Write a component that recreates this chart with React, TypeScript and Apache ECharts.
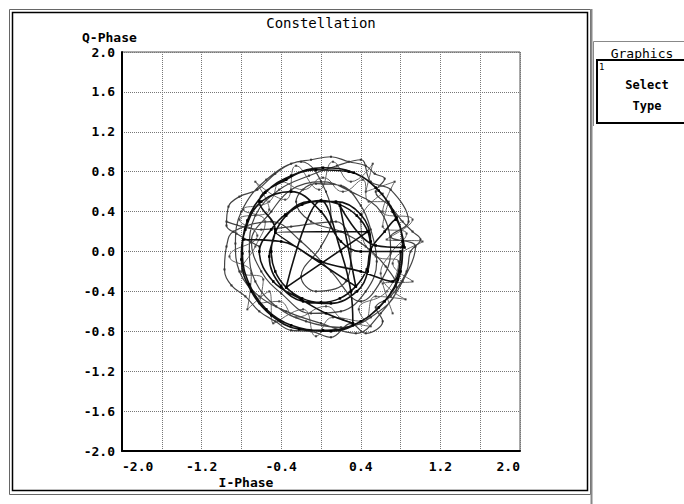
import React, { useEffect, useRef } from "react";
import * as echarts from "echarts";

const xTickValues = [-2.0, -1.2, -0.4, 0.4, 1.2, 2.0];
const xTickLabels = ["-2.0", "-1.2", "-0.4", "0.4", "1.2", "2.0"];
const yTickValues = [-2.0, -1.6, -1.2, -0.8, -0.4, 0.0, 0.4, 0.8, 1.2, 1.6, 2.0];
const yTickLabels = ["-2.0", "-1.6", "-1.2", "-0.8", "-0.4", "0.0", "0.4", "0.8", "1.2", "1.6", "2.0"];

// Dark trace (I, Q)
const traceDark: number[][] = [
  [0.50, 0.02], [0.47, 0.20], [0.36, 0.36], [0.19, 0.47], [0.00, 0.51], [-0.19, 0.47],
  [-0.35, 0.36], [-0.46, 0.19], [-0.50, 0.00], [-0.46, -0.20], [-0.35, -0.36], [-0.19, -0.47],
  [0.00, -0.51], [0.19, -0.47], [0.35, -0.35], [0.46, -0.18], [0.50, 0.02],
  [0.64, 0.20], [0.75, 0.32], [0.82, 0.05], [0.77, -0.28], [0.58, -0.56], [0.32, -0.74],
  [0.02, -0.79], [-0.30, -0.74], [-0.55, -0.58], [-0.72, -0.33], [-0.79, -0.02], [-0.74, 0.31],
  [-0.56, 0.59], [-0.30, 0.76], [0.02, 0.84], [0.33, 0.79], [0.58, 0.61], [0.76, 0.34],
  [0.84, 0.04], [0.55, 0.06], [0.19, 0.46], [0.35, -0.35], [-0.46, 0.19], [0.47, 0.20],
  [-0.35, -0.36], [0.00, 0.51], [0.20, 0.00], [0.30, -0.40], [0.32, -0.72],
  [0.05, -0.62], [-0.20, -0.48], [-0.48, -0.30], [-0.62, 0.00], [-0.50, 0.22],
  [-0.36, 0.37], [-0.12, 0.50], [0.15, 0.50], [0.40, 0.37], [0.50, 0.10], [0.47, -0.20],
  [0.36, -0.40], [0.10, -0.52], [-0.18, -0.50], [-0.40, -0.35], [-0.52, -0.05],
  [-0.46, 0.22], [-0.62, 0.50], [-0.35, 0.72], [-0.05, 0.82], [0.28, 0.80], [0.55, 0.64],
  [0.72, 0.40], [0.82, 0.10], [0.80, -0.20], [0.64, -0.50], [0.40, -0.70], [0.10, -0.80],
  [-0.22, -0.78], [-0.50, -0.64], [-0.70, -0.40], [-0.80, -0.08], [-0.76, 0.22], [-0.60, 0.50],
  [-0.30, 0.60], [0.00, 0.40], [0.20, 0.10], [0.40, 0.00], [0.80, 0.00], [0.72, -0.30],
  [0.40, -0.20], [0.00, -0.10], [-0.40, 0.10], [-0.78, 0.12]
];

// Grey trace (I, Q)
const traceGrey: number[][] = [
  [-0.62, 0.05], [-0.85, 0.18], [-0.95, 0.26], [-0.93, 0.45], [-0.82, 0.55], [-0.64, 0.62],
  [-0.46, 0.78], [-0.30, 0.88], [-0.10, 0.92], [0.10, 0.95], [0.28, 0.90], [0.45, 0.86],
  [0.54, 0.78], [0.64, 0.73], [0.55, 0.60], [0.70, 0.45], [0.82, 0.30], [0.92, 0.20],
  [1.00, 0.12], [0.90, 0.00], [0.86, -0.20], [0.70, -0.45], [0.55, -0.56], [0.62, -0.70],
  [0.45, -0.82], [0.30, -0.72], [0.10, -0.86], [-0.10, -0.80], [-0.30, -0.79], [-0.46, -0.70],
  [-0.62, -0.60], [-0.76, -0.45], [-0.90, -0.34], [-0.97, -0.18], [-0.95, 0.05], [-0.88, 0.20],
  [-0.50, 0.30], [-0.20, 0.10], [0.10, -0.20], [0.40, -0.50], [0.60, -0.30], [0.70, 0.00],
  [0.60, 0.40], [0.30, 0.60], [0.00, 0.70], [-0.30, 0.62], [-0.50, 0.40], [-0.70, 0.10],
  [-0.60, -0.20], [-0.40, -0.42], [-0.10, -0.62], [0.20, -0.60], [0.45, -0.40], [0.56, -0.10],
  [0.50, 0.22], [0.40, 0.46], [0.20, 0.66], [-0.05, 0.68], [-0.25, 0.50], [-0.10, 0.30],
  [0.20, 0.20], [0.45, 0.05], [0.65, -0.15], [0.76, -0.36], [0.50, -0.66], [0.20, -0.76],
  [-0.15, -0.70], [-0.45, -0.55], [-0.66, -0.30], [-0.72, 0.00], [-0.66, 0.36], [-0.42, 0.62],
  [-0.12, 0.76], [0.16, 0.86], [0.40, 0.92], [0.50, 0.70], [0.70, 0.62], [0.88, 0.30],
  [0.70, 0.15], [0.95, 0.05], [0.82, -0.30], [0.60, -0.62], [0.35, -0.82], [0.00, -0.72],
  [-0.35, -0.60], [-0.62, -0.45], [-0.82, -0.20], [-0.86, 0.08], [-0.80, 0.40], [-0.55, 0.72],
  [-0.20, 0.90], [0.05, 0.60], [0.10, 0.30], [0.00, 0.05], [-0.20, -0.25], [-0.05, -0.40],
  [0.25, -0.30], [0.30, 0.00], [0.15, 0.30], [-0.30, 0.25], [-0.60, 0.22], [-0.95, 0.30]
];

// Mid-grey trace (I, Q)
const traceMid: number[][] = [
  [0.62, 0.58], [0.40, 0.30], [0.55, -0.05], [0.78, -0.10], [0.66, -0.40], [0.38, -0.58],
  [0.50, -0.75], [0.22, -0.68], [0.05, -0.55], [-0.25, -0.66], [-0.42, -0.50], [-0.62, -0.52],
  [-0.58, -0.28], [-0.80, -0.20], [-0.66, 0.05], [-0.56, 0.30], [-0.78, 0.42], [-0.52, 0.50],
  [-0.40, 0.70], [-0.18, 0.62], [0.02, 0.74], [0.22, 0.60], [0.42, 0.72], [0.48, 0.50],
  [0.68, 0.50], [0.62, 0.25], [0.86, 0.18], [0.70, -0.02], [0.60, -0.22], [0.85, -0.48],
  [0.55, -0.45], [0.42, -0.70], [0.12, -0.66], [-0.05, -0.85], [-0.18, -0.58], [-0.48, -0.72],
  [-0.52, -0.40], [-0.74, -0.58], [-0.70, -0.22], [-0.92, -0.05], [-0.64, 0.16], [-0.82, 0.32],
  [-0.52, 0.42], [-0.66, 0.70], [-0.36, 0.52], [-0.25, 0.86], [-0.02, 0.62], [0.12, 0.90],
  [0.30, 0.70], [0.52, 0.88], [0.45, 0.60], [0.74, 0.70], [0.62, 0.40], [0.92, 0.32],
  [0.66, 0.12], [1.02, 0.10], [0.72, -0.12], [0.92, -0.30], [0.62, -0.32], [0.72, -0.62]
];

const mono = "'DejaVu Sans Mono', 'Liberation Mono', monospace";

function fmt(values: number[], labels: string[]) {
  return (v: number) => {
    const i = values.findIndex((t) => Math.abs(t - v) < 1e-6);
    return i >= 0 ? labels[i] : "";
  };
}

export default function App() {
  const ref = useRef<HTMLDivElement>(null);
  useEffect(() => {
    if (!ref.current) return;
    const chart = echarts.init(ref.current, null, { renderer: "svg" });
    chart.setOption({
      animation: false,
      backgroundColor: "#ffffff",
      grid: {
        left: 122, top: 52, width: 398, height: 399,
        show: true, borderColor: "#555555", borderWidth: 1, backgroundColor: "transparent"
      },
      xAxis: {
        type: "value", min: -2, max: 2, interval: 0.4,
        axisLine: { show: true, onZero: false, lineStyle: { color: "#000", width: 2 } },
        axisTick: { show: false },
        splitLine: { show: true, lineStyle: { color: "#777", type: [1, 1], width: 1 } },
        axisLabel: {
          formatter: fmt(xTickValues, xTickLabels), color: "#000", fontFamily: mono,
          fontWeight: "bold", fontSize: 13, margin: 9, alignMinLabel: "left", alignMaxLabel: "right"
        }
      },
      yAxis: {
        type: "value", min: -2, max: 2, interval: 0.4,
        axisLine: { show: true, onZero: false, lineStyle: { color: "#000", width: 2 } },
        axisTick: { show: false },
        splitLine: { show: true, lineStyle: { color: "#777", type: [1, 1], width: 1 } },
        axisLabel: {
          formatter: fmt(yTickValues, yTickLabels), color: "#000", fontFamily: mono,
          fontWeight: "bold", fontSize: 13, margin: 7
        }
      },
      series: [
        {
          type: "line", data: traceMid, smooth: 0.5, showSymbol: true, symbol: "rect", symbolSize: 2,
          lineStyle: { color: "#666", width: 1 }, itemStyle: { color: "#444" }, z: 2
        },
        {
          type: "line", data: traceGrey, smooth: 0.4, showSymbol: true, symbol: "rect", symbolSize: 2,
          lineStyle: { color: "#444", width: 1.2 }, itemStyle: { color: "#333" }, z: 3
        },
        {
          type: "line", data: traceDark, smooth: 0.4, showSymbol: true, symbol: "rect", symbolSize: 2.5,
          lineStyle: { color: "#111", width: 1.6 }, itemStyle: { color: "#000" }, z: 4
        }
      ],
      graphic: [
        { type: "rect", shape: { x: 9.5, y: 9.5, width: 581, height: 485 }, style: { fill: "none", stroke: "#666", lineWidth: 1 }, silent: true },
        { type: "rect", shape: { x: 12.5, y: 12.5, width: 575, height: 478 }, style: { fill: "none", stroke: "#000", lineWidth: 1.5 }, silent: true },
        { type: "line", shape: { x1: 591.5, y1: 9, x2: 591.5, y2: 504 }, style: { stroke: "#888", lineWidth: 2 }, silent: true },
        { type: "text", x: 321, y: 23, style: { text: "Constellation", font: `14px ${mono}`, fill: "#000", textAlign: "center", textVerticalAlign: "middle" } },
        { type: "text", x: 82, y: 37, style: { text: "Q-Phase", font: `bold 13px ${mono}`, fill: "#000", textAlign: "left", textVerticalAlign: "middle" } },
        { type: "text", x: 246, y: 482, style: { text: "I-Phase", font: `bold 13px ${mono}`, fill: "#000", textAlign: "center", textVerticalAlign: "middle" } },
        { type: "line", shape: { x1: 593.5, y1: 41.5, x2: 684, y2: 41.5 }, style: { stroke: "#888", lineWidth: 1 }, silent: true },
        { type: "line", shape: { x1: 593.5, y1: 41.5, x2: 593.5, y2: 126 }, style: { stroke: "#888", lineWidth: 1 }, silent: true },
        { type: "text", x: 642, y: 53, style: { text: "Graphics", font: `13px ${mono}`, fill: "#000", textAlign: "center", textVerticalAlign: "middle" } },
        { type: "rect", shape: { x: 597, y: 60, width: 88, height: 63 }, style: { fill: "none", stroke: "#000", lineWidth: 2 }, silent: true },
        { type: "text", x: 599, y: 67, style: { text: "1", font: `9px ${mono}`, fill: "#000", textAlign: "left", textVerticalAlign: "middle" } },
        { type: "text", x: 647, y: 85, style: { text: "Select", font: `bold 12px ${mono}`, fill: "#000", textAlign: "center", textVerticalAlign: "middle" } },
        { type: "text", x: 647, y: 106, style: { text: "Type", font: `bold 12px ${mono}`, fill: "#000", textAlign: "center", textVerticalAlign: "middle" } }
      ]
    });
    return () => chart.dispose();
  }, []);
  return <div ref={ref} style={{ position: "fixed", left: 0, top: 0, width: 684, height: 504 }} />;
}
